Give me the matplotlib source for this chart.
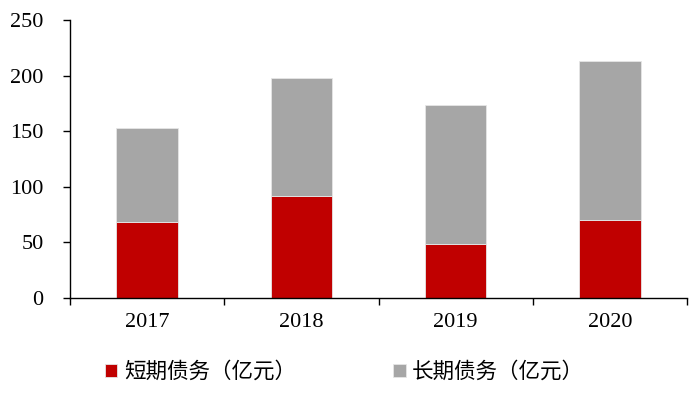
import matplotlib
matplotlib.use('Agg')
from matplotlib import pyplot as plt
from matplotlib.ticker import MultipleLocator, FixedLocator
import numpy as np

# 数据
years = ['2017', '2018', '2019', '2020']
short_debt = [68.5, 92, 49, 70.5]      # 短期债务（亿元）
long_debt = [84, 105.5, 124.5, 143]    # 长期债务（亿元）
labels = ['短期债务（亿元）', '长期债务（亿元）']

plt.rcParams['font.family'] = ['Liberation Serif', 'Noto Sans CJK SC']

fig = plt.figure(figsize=(6.97, 4.0), dpi=100)
ax = fig.add_axes([0.1004, 0.255, 0.8853, 0.695])

x = np.arange(len(years))
ax.bar(x, short_debt, width=0.4, color='#c00000', edgecolor='#e6e6e6', linewidth=0.6, label=labels[0])
ax.bar(x, long_debt, width=0.4, bottom=short_debt, color='#a6a6a6', edgecolor='#e6e6e6', linewidth=0.6, label=labels[1])

ax.set_xlim(-0.5, len(years) - 0.5)
ax.set_ylim(0, 250)
ax.yaxis.set_major_locator(MultipleLocator(50))

# x轴刻度在类别之间
ax.set_xticks(x)
ax.set_xticklabels(years)
ax.xaxis.set_minor_locator(FixedLocator(np.arange(-0.5, len(years), 1.0)))
ax.tick_params(axis='x', which='major', length=0, pad=11, labelsize=16)
ax.tick_params(axis='x', which='minor', length=5, width=1, direction='out')
ax.tick_params(axis='y', length=5, width=1, direction='out', labelsize=16, pad=14)

for s in ['top', 'right']:
    ax.spines[s].set_visible(False)
ax.spines['left'].set_linewidth(1)
ax.spines['bottom'].set_linewidth(1)

fig.legend(loc='center', bbox_to_anchor=(0.494, 0.07), ncol=2, frameon=False,
           prop={'family': ['Noto Sans CJK SC'], 'size': 15.5},
           handlelength=0.6, handleheight=0.6, handletextpad=0.3, columnspacing=4.5)

plt.savefig('out.png', dpi=100)
